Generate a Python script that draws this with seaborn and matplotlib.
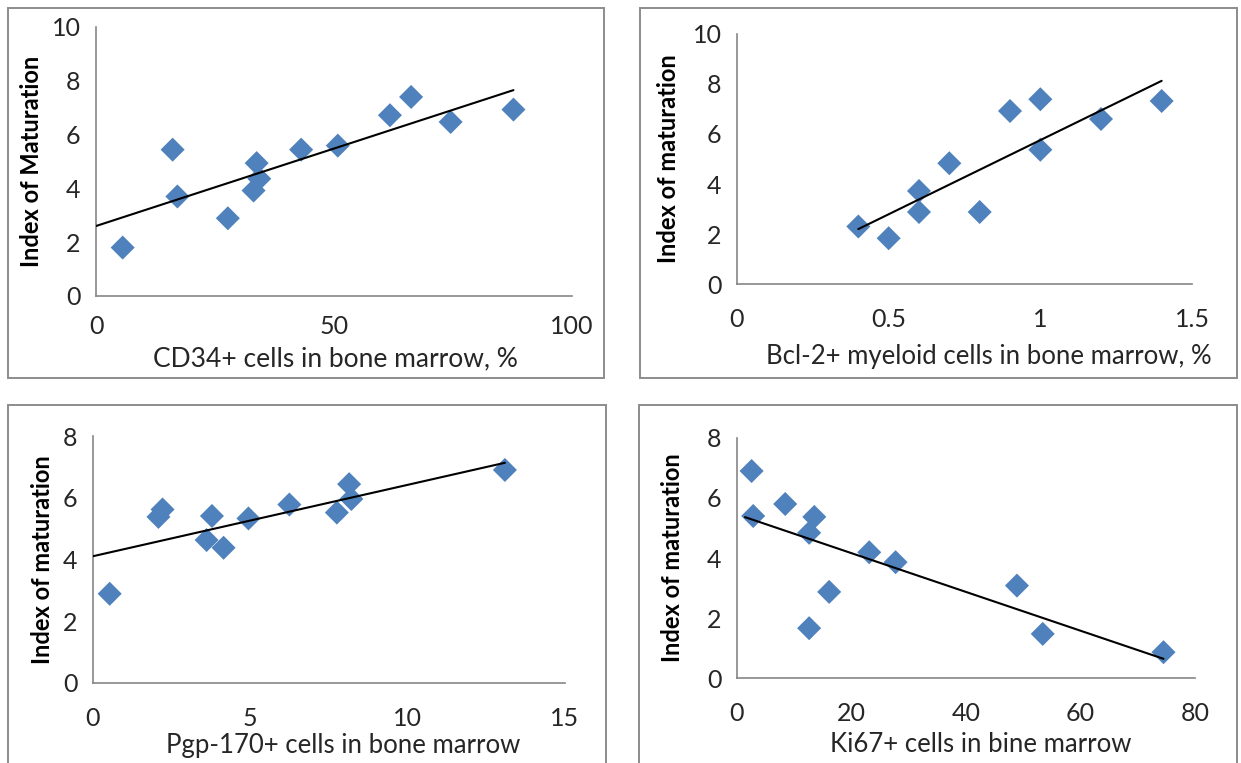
import numpy as np
import pandas as pd
import matplotlib
matplotlib.use("Agg")
import matplotlib.pyplot as plt
import seaborn as sns
from matplotlib.patches import Rectangle

# ---------------- data ----------------
cd34_x = [5.6, 16.1, 17.1, 27.7, 33.75, 33.1, 34.3, 43.1, 50.8, 61.75, 66.2, 74.5, 87.7]
cd34_y = [1.80, 5.44, 3.70, 2.89, 4.94, 3.92, 4.36, 5.44, 5.59, 6.72, 7.40, 6.47, 6.93]

bcl2_x = [0.40, 0.50, 0.60, 0.60, 0.70, 0.80, 0.90, 1.00, 1.00, 1.20, 1.40]
bcl2_y = [2.30, 1.83, 3.72, 2.88, 4.83, 2.88, 6.92, 7.39, 5.37, 6.60, 7.32]

pgp_x = [0.53, 2.08, 2.21, 3.61, 3.78, 4.15, 4.94, 6.24, 7.75, 8.14, 8.21, 13.09]
pgp_y = [2.89, 5.38, 5.62, 4.63, 5.41, 4.38, 5.33, 5.78, 5.52, 6.44, 5.96, 6.90]

ki67_x = [2.55, 2.83, 8.42, 13.5, 12.6, 12.6, 16.1, 23.1, 27.7, 48.9, 53.4, 74.5]
ki67_y = [6.90, 5.40, 5.80, 5.37, 4.84, 1.66, 2.87, 4.19, 3.86, 3.08, 1.47, 0.86]

# trendline start (Excel "forecast backward") per panel
trend_start = [0.0, 0.40, 0.0, 1.4]

x_labels = ["CD34+ cells in bone marrow, %",
            "Bcl-2+ myeloid cells in bone marrow, %",
            "Pgp-170+ cells in bone marrow",
            "Ki67+ cells in bine marrow"]
y_labels = ["Index of Maturation", "Index of maturation",
            "Index of maturation", "Index of maturation"]

x_ticks = [[0, 50, 100], [0, 0.5, 1, 1.5], [0, 5, 10, 15], [0, 20, 40, 60, 80]]
x_tick_labels = [["0", "50", "100"], ["0", "0.5", "1", "1.5"],
                 ["0", "5", "10", "15"], ["0", "20", "40", "60", "80"]]
y_ticks = [[0, 2, 4, 6, 8, 10], [0, 2, 4, 6, 8, 10], [0, 2, 4, 6, 8], [0, 2, 4, 6, 8]]

# ---------------- style ----------------
sns.set_theme(style="white")
plt.rcParams["font.family"] = ["Lato", "DejaVu Sans"]

W, H = 1241, 763
fig = plt.figure(figsize=(W / 100, H / 100), dpi=100)
fig.patch.set_facecolor("white")

# axes rectangles in pixels: (x0, x_max, y_top, y_zero)
axes_px = [(96, 572, 27, 296),
           (737, 1192, 34, 284),
           (93, 565, 436, 683),
           (737, 1195, 438, 678)]
# panel frames in pixels: (left, top, right, bottom)
frames_px = [(8, 8, 604, 378),
             (640, 8, 1237, 378),
             (8, 405, 606, 800),
             (639, 405, 1237, 800)]

for (l, t, r, b) in frames_px:
    fig.patches.append(Rectangle((l / W, 1 - b / H), (r - l) / W, (b - t) / H,
                                 transform=fig.transFigure, fill=False,
                                 edgecolor="#8c8c8c", linewidth=1.4, zorder=0))

datasets = [(cd34_x, cd34_y), (bcl2_x, bcl2_y), (pgp_x, pgp_y), (ki67_x, ki67_y)]
ylabel_x = [32, 669, 42, 673]
xlabel_pos = [(335, 359, 19), (989, 356, 18.5), (343, 745, 18.5), (981, 745, 18.5)]
xtick_pad = [8, 11, 11, 11]

marker_color = "#4F81BD"
axis_color = "#868686"
text_color = "#262626"

for i, ((xs, ys), (x0, x1, yt, y0)) in enumerate(zip(datasets, axes_px)):
    ax = fig.add_axes([x0 / W, 1 - y0 / H, (x1 - x0) / W, (y0 - yt) / H])
    df = pd.DataFrame({"x": xs, "y": ys})
    sns.scatterplot(data=df, x="x", y="y", ax=ax, marker="D", s=150,
                    color=marker_color, edgecolor="none", zorder=3)
    # linear trendline
    slope, intercept = np.polyfit(df["x"], df["y"], 1)
    line = pd.DataFrame({"x": [trend_start[i], max(xs)]})
    line["y"] = intercept + slope * line["x"]
    sns.lineplot(data=line, x="x", y="y", ax=ax, color="black", linewidth=1.5, zorder=4)

    ax.set_xlim(x_ticks[i][0], x_ticks[i][-1])
    ax.set_ylim(y_ticks[i][0], y_ticks[i][-1])
    ax.set_xticks(x_ticks[i])
    ax.set_xticklabels(x_tick_labels[i])
    ax.set_yticks(y_ticks[i])
    for s in ["top", "right"]:
        ax.spines[s].set_visible(False)
    for s in ["left", "bottom"]:
        ax.spines[s].set_color(axis_color)
        ax.spines[s].set_linewidth(1.2)
    ax.tick_params(axis="both", direction="out", length=6, width=1.2,
                   color=axis_color, labelsize=18, labelcolor=text_color, pad=5)
    ax.tick_params(axis="x", pad=xtick_pad[i])
    ax.set_facecolor("none")
    ax.set_xlabel("")
    ax.set_ylabel("")
    # axis titles placed in figure coordinates
    lx, ly, fs = xlabel_pos[i]
    fig.text(lx / W, 1 - ly / H, x_labels[i], ha="center", va="center",
             fontsize=fs, color=text_color)
    fig.text(ylabel_x[i] / W, 1 - ((yt + y0) / 2) / H, y_labels[i], ha="center",
             va="center", rotation=90, fontsize=17, fontweight="bold", color="black")

fig.savefig("out.png", dpi=100, facecolor="white")
